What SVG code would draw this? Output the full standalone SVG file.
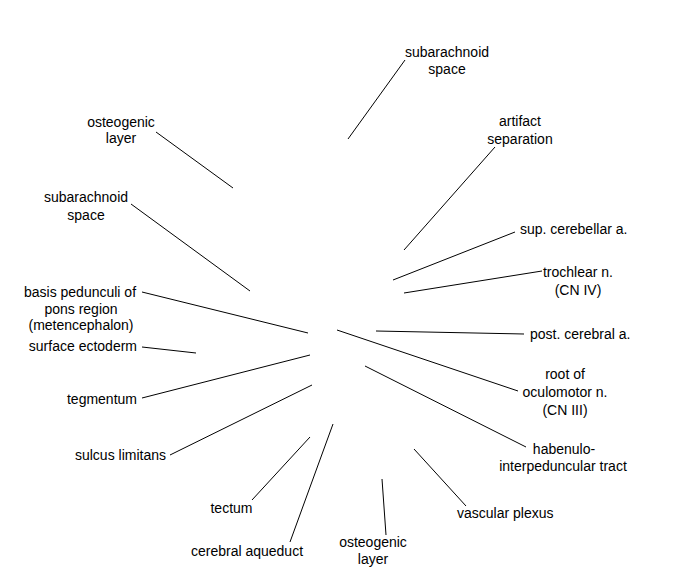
<svg xmlns="http://www.w3.org/2000/svg" width="675" height="580" viewBox="0 0 675 580">
<style>
text{font-family:"Liberation Sans",Arial,sans-serif;font-size:14px;fill:#000}
.m{text-anchor:middle}.e{text-anchor:end}
#connectors line{stroke:#000;stroke-width:1}
</style>
<rect width="675" height="580" fill="#fff"/>
<g id="connectors">
<line x1="405" y1="60" x2="348" y2="139"/>
<line x1="495" y1="147" x2="404" y2="250"/>
<line x1="156" y1="132" x2="233" y2="188"/>
<line x1="131" y1="204" x2="250" y2="291"/>
<line x1="515" y1="232" x2="393" y2="280"/>
<line x1="542" y1="271" x2="404" y2="293"/>
<line x1="376" y1="331" x2="524" y2="334"/>
<line x1="337" y1="330" x2="518" y2="391"/>
<line x1="365" y1="366" x2="526" y2="447"/>
<line x1="142" y1="292" x2="308" y2="333"/>
<line x1="142" y1="347" x2="196" y2="353"/>
<line x1="142" y1="398" x2="310" y2="355"/>
<line x1="170" y1="455" x2="312" y2="385"/>
<line x1="252" y1="500" x2="310" y2="437"/>
<line x1="290" y1="542" x2="333" y2="424"/>
<line x1="386" y1="535" x2="382" y2="479"/>
<line x1="466" y1="506" x2="414" y2="449"/>
</g>
<g id="subarachnoid-space-top"><text class="m" x="447" y="57">subarachnoid</text><text class="m" x="447" y="73.5">space</text></g>
<g id="artifact-separation"><text class="m" x="520" y="126">artifact</text><text class="m" x="520" y="143.5">separation</text></g>
<g id="osteogenic-layer-left"><text class="m" x="121" y="127">osteogenic</text><text class="m" x="121" y="143">layer</text></g>
<g id="subarachnoid-space-left"><text class="m" x="86" y="202">subarachnoid</text><text class="m" x="86" y="219.5">space</text></g>
<g id="sup-cerebellar"><text x="520" y="234">sup. cerebellar a.</text></g>
<g id="trochlear"><text class="m" x="578" y="277">trochlear n.</text><text class="m" x="578" y="295">(CN IV)</text></g>
<g id="basis-pedunculi"><text class="m" x="80" y="297">basis pedunculi of</text><text class="m" x="81" y="313.5">pons region</text><text class="m" x="81" y="330">(metencephalon)</text></g>
<g id="post-cerebral"><text x="530" y="339">post. cerebral a.</text></g>
<g id="surface-ectoderm"><text class="e" x="137" y="351">surface ectoderm</text></g>
<g id="root-oculomotor"><text class="m" x="565" y="379">root of</text><text class="m" x="565" y="397">oculomotor n.</text><text class="m" x="565" y="415">(CN III)</text></g>
<g id="tegmentum"><text class="e" x="137" y="404">tegmentum</text></g>
<g id="habenulo"><text class="m" x="564" y="454">habenulo-</text><text class="m" x="563" y="471">interpeduncular tract</text></g>
<g id="sulcus-limitans"><text class="e" x="166" y="460">sulcus limitans</text></g>
<g id="tectum"><text class="m" x="231.5" y="513">tectum</text></g>
<g id="vascular-plexus"><text x="457" y="518">vascular plexus</text></g>
<g id="cerebral-aqueduct"><text class="m" x="247" y="556">cerebral aqueduct</text></g>
<g id="osteogenic-layer-bottom"><text class="m" x="373" y="547">osteogenic</text><text class="m" x="373" y="563.5">layer</text></g>
</svg>
